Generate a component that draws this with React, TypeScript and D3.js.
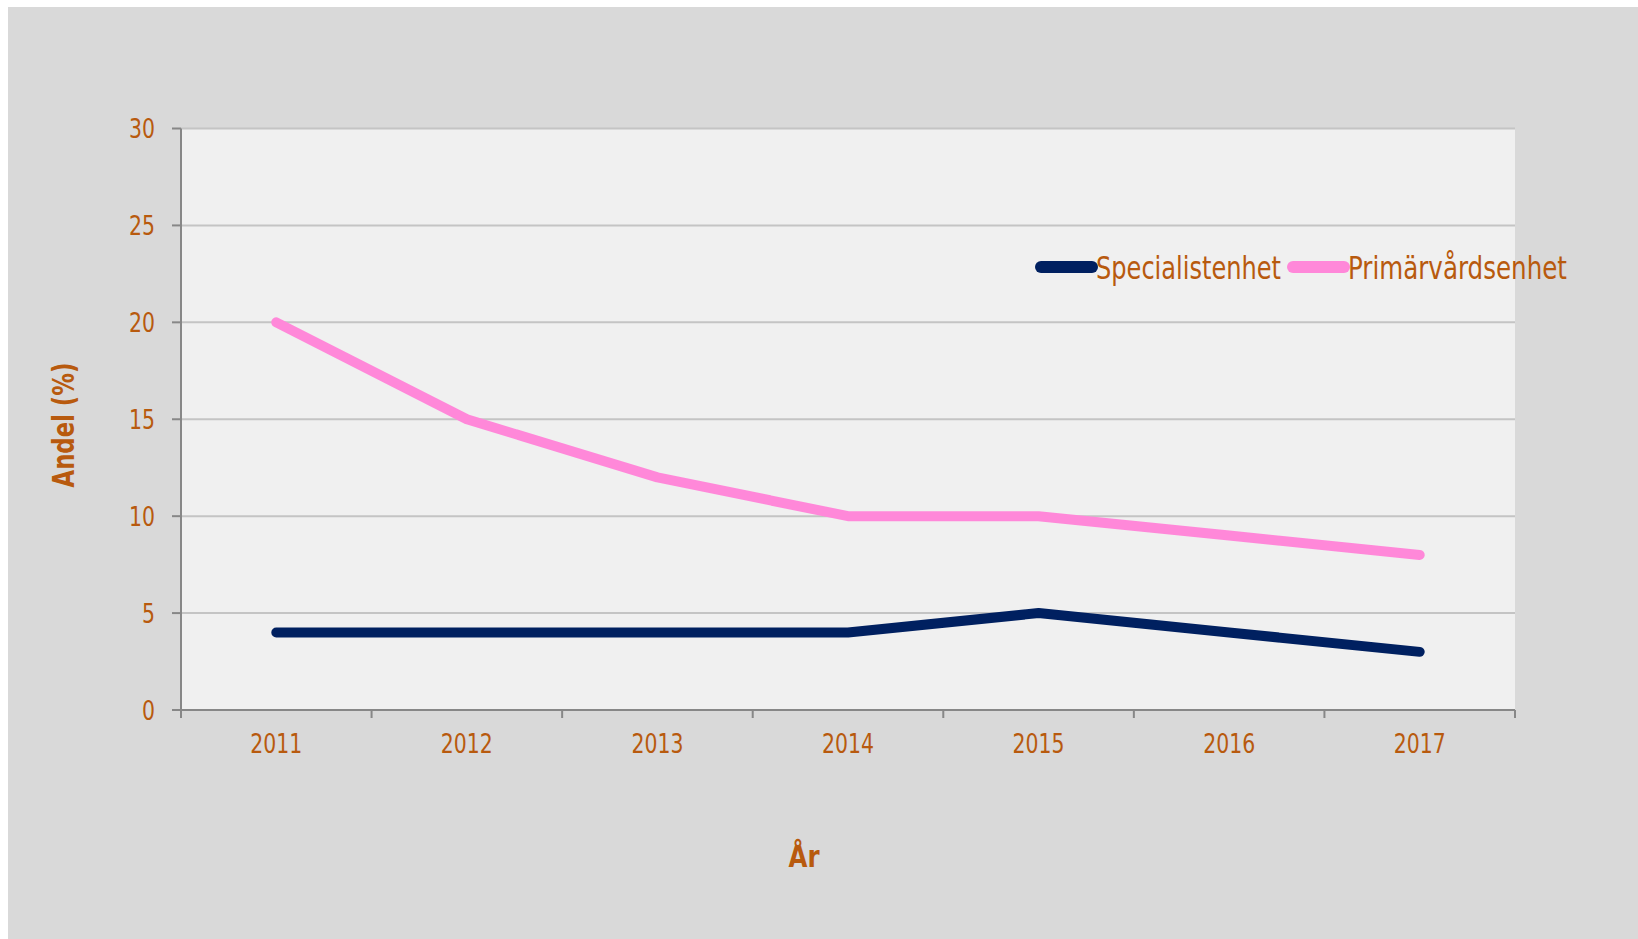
import React, { useEffect, useRef } from "react";
import * as d3 from "d3";

// chart data
const years = ["2011", "2012", "2013", "2014", "2015", "2016", "2017"];
const specialist = [4, 4, 4, 4, 5, 4, 3];
const primary = [20, 15, 12, 10, 10, 9, 8];
const yTicks = [0, 5, 10, 15, 20, 25, 30];
const seriesNames = ["Specialistenhet", "Primärvårdsenhet"];

const width = 1630;
const height = 932;
const marginLeft = 173;
const marginRight = 123;
const marginTop = 121.5;
const plotBottom = 703;

const textColor = "#B85A0E";
const font = "'DejaVu Sans Condensed', 'DejaVu Sans', sans-serif";

const App = () => {
  const svgRef = useRef<SVGSVGElement>(null);

  useEffect(() => {
    if (!svgRef.current) return;
    const svg = d3.select(svgRef.current);
    svg.selectAll("*").remove();

    // background
    svg.append("rect").attr("width", width).attr("height", height).attr("fill", "#D9D9D9");

    const x = d3
      .scaleBand()
      .domain(years)
      .range([marginLeft, width - marginRight])
      .padding(0);

    const y = d3.scaleLinear().domain([0, 30]).range([plotBottom, marginTop]);

    // plot area
    svg
      .append("rect")
      .attr("x", marginLeft)
      .attr("y", y(30))
      .attr("width", width - marginRight - marginLeft)
      .attr("height", y(0) - y(30))
      .attr("fill", "#F0F0F0");

    // gridlines
    svg
      .append("g")
      .selectAll("line")
      .data(yTicks.filter((d) => d > 0))
      .join("line")
      .attr("x1", marginLeft)
      .attr("x2", width - marginRight)
      .attr("y1", (d) => y(d))
      .attr("y2", (d) => y(d))
      .attr("stroke", "#C4C4C4")
      .attr("stroke-width", 2);

    // y axis
    svg
      .append("line")
      .attr("x1", marginLeft)
      .attr("x2", marginLeft)
      .attr("y1", y(30))
      .attr("y2", y(0) + 8)
      .attr("stroke", "#878787")
      .attr("stroke-width", 2);

    svg
      .append("g")
      .selectAll("line")
      .data(yTicks)
      .join("line")
      .attr("x1", marginLeft - 9)
      .attr("x2", marginLeft)
      .attr("y1", (d) => y(d))
      .attr("y2", (d) => y(d))
      .attr("stroke", "#878787")
      .attr("stroke-width", 2);

    svg
      .append("g")
      .selectAll("text")
      .data(yTicks)
      .join("text")
      .attr("x", marginLeft - 26)
      .attr("y", (d) => y(d))
      .attr("dy", "0.36em")
      .attr("text-anchor", "end")
      .attr("fill", textColor)
      .attr("textLength", (d) => String(d).length * 13)
      .attr("lengthAdjust", "spacingAndGlyphs")
      .style("font-family", font)
      .style("font-size", "27px")
      .text((d) => d);

    // x axis
    svg
      .append("line")
      .attr("x1", marginLeft - 9)
      .attr("x2", width - marginRight)
      .attr("y1", y(0))
      .attr("y2", y(0))
      .attr("stroke", "#878787")
      .attr("stroke-width", 2);

    const boundaries = years.map((d) => x(d) as number).concat([width - marginRight]);
    svg
      .append("g")
      .selectAll("line")
      .data(boundaries)
      .join("line")
      .attr("x1", (d) => d)
      .attr("x2", (d) => d)
      .attr("y1", y(0))
      .attr("y2", y(0) + 8)
      .attr("stroke", "#878787")
      .attr("stroke-width", 2);

    svg
      .append("g")
      .selectAll("text")
      .data(years)
      .join("text")
      .attr("x", (d) => (x(d) as number) + x.bandwidth() / 2)
      .attr("y", y(0) + 43)
      .attr("text-anchor", "middle")
      .attr("fill", textColor)
      .attr("textLength", 52)
      .attr("lengthAdjust", "spacingAndGlyphs")
      .style("font-family", font)
      .style("font-size", "27px")
      .text((d) => d);

    // lines
    const line = d3
      .line<number>()
      .x((_, i) => (x(years[i]) as number) + x.bandwidth() / 2)
      .y((d) => y(d));

    svg
      .append("path")
      .datum(primary)
      .attr("fill", "none")
      .attr("stroke", "#FF88D9")
      .attr("stroke-width", 10)
      .attr("stroke-linecap", "round")
      .attr("stroke-linejoin", "round")
      .attr("d", line);

    svg
      .append("path")
      .datum(specialist)
      .attr("fill", "none")
      .attr("stroke", "#002060")
      .attr("stroke-width", 10)
      .attr("stroke-linecap", "round")
      .attr("stroke-linejoin", "round")
      .attr("d", line);

    // axis titles
    svg
      .append("text")
      .attr("transform", "translate(66,418) rotate(-90)")
      .attr("text-anchor", "middle")
      .attr("fill", textColor)
      .attr("textLength", 125)
      .attr("lengthAdjust", "spacingAndGlyphs")
      .style("font-family", font)
      .style("font-size", "31px")
      .style("font-weight", "bold")
      .text("Andel (%)");

    svg
      .append("text")
      .attr("x", 796)
      .attr("y", 860)
      .attr("text-anchor", "middle")
      .attr("fill", textColor)
      .attr("textLength", 31)
      .attr("lengthAdjust", "spacingAndGlyphs")
      .style("font-family", font)
      .style("font-size", "31px")
      .style("font-weight", "bold")
      .text("År");

    // legend
    const legend = svg.append("g").attr("transform", "translate(1028,260)");
    const legendColors = ["#002060", "#FF88D9"];
    const legendX = [0, 252];
    const legendLen = [185, 219];
    seriesNames.forEach((name, i) => {
      legend
        .append("line")
        .attr("x1", legendX[i] + 5)
        .attr("x2", legendX[i] + 56)
        .attr("y1", 0)
        .attr("y2", 0)
        .attr("stroke", legendColors[i])
        .attr("stroke-width", 12)
        .attr("stroke-linecap", "round");
      legend
        .append("text")
        .attr("x", legendX[i] + 60)
        .attr("y", 12)
        .attr("fill", textColor)
        .attr("textLength", legendLen[i])
        .attr("lengthAdjust", "spacingAndGlyphs")
        .style("font-family", font)
        .style("font-size", "32px")
        .text(name);
    });
  }, []);

  return (
    <div style={{ position: "fixed", left: 8, top: 7 }}>
      <svg ref={svgRef} width={width} height={height} style={{ display: "block" }}></svg>
    </div>
  );
};

export default App;
